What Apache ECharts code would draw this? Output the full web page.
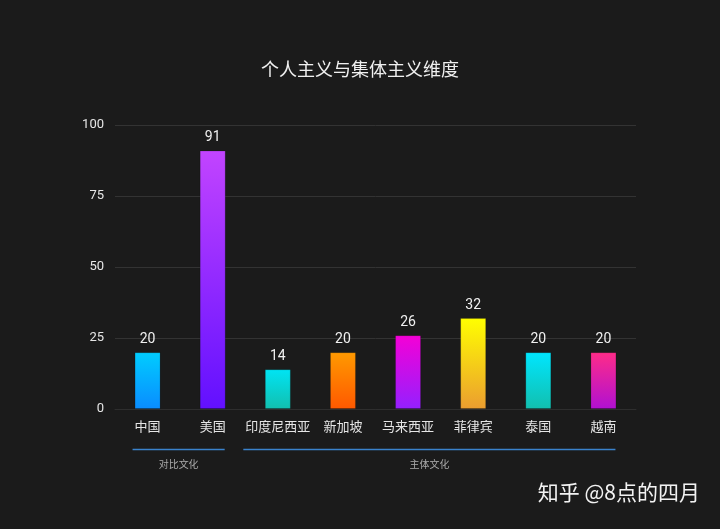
<!DOCTYPE html>
<html><head><meta charset="utf-8">
<script src="https://cdn.jsdelivr.net/npm/echarts@6/dist/echarts.min.js"></script>
<style>html,body{margin:0;padding:0;background:#1b1b1b;}#c{width:720px;height:529px;}</style>
</head><body><div id="c"></div>
<script>
const categories = ['中国','美国','印度尼西亚','新加坡','马来西亚','菲律宾','泰国','越南'];
const values = [20, 91, 14, 20, 26, 32, 20, 20];
const topColors = ['#00cdff','#c244ff','#00e4f4','#ff9a00','#f500d6','#ffff00','#00e6ff','#ff2c88'];
const bottomColors = ['#0a8cff','#6210ff','#12bfae','#ff5800','#9420ff','#eb9d30','#12bfae','#b010d2'];
const yTicks = [0, 25, 50, 75, 100];
const groups = [
  {name: '对比文化', from: 0, to: 1},
  {name: '主体文化', from: 2, to: 7}
];

const W = 720, H = 529;
const gridLeft = 115, gridRight = 84, gridTop = 125, gridBottom = 120;
const labelFont = '13px "Noto Sans CJK SC"';
const chart = echarts.init(document.getElementById('c'), null, {renderer: 'canvas'});
const band = (W - gridLeft - gridRight) / categories.length;
const center = i => gridLeft + (i + 0.5) * band;
const mctx = document.createElement('canvas').getContext('2d');
mctx.font = labelFont;
const tw = s => mctx.measureText(s).width;

const graphics = [];
groups.forEach(g => {
  const x1 = center(g.from) - tw(categories[g.from]) / 2 - 2;
  const x2 = center(g.to) + tw(categories[g.to]) / 2 - 1;
  graphics.push({type: 'line', shape: {x1: x1, y1: 449.5, x2: x2, y2: 449.5}, style: {stroke: '#3a82cc', lineWidth: 1.5}});
  graphics.push({type: 'text', x: (x1 + x2) / 2, y: 464, style: {text: g.name, fill: '#aaaaaa', font: '10px "Noto Sans CJK SC"', textAlign: 'center', textVerticalAlign: 'middle'}});
});
graphics.push({type: 'text', right: 20, top: 482, style: {text: '知乎 @8点的四月', fill: '#f2f2f2', font: '21px "Noto Sans CJK SC"'}});

chart.setOption({
  backgroundColor: '#1b1b1b',
  animation: false,
  title: {text: '个人主义与集体主义维度', left: 'center', top: 55,
    textStyle: {color: '#f0f0f0', fontSize: 18, fontWeight: 'normal', fontFamily: '"Noto Sans CJK SC"'}},
  grid: {left: gridLeft, right: gridRight, top: gridTop, bottom: gridBottom},
  xAxis: {type: 'category', data: categories,
    axisLine: {lineStyle: {color: '#2e2e2e'}}, axisTick: {show: false},
    axisLabel: {interval: 0, color: '#e6e6e6', fontSize: 13, margin: 11, fontFamily: '"Noto Sans CJK SC"'}},
  yAxis: {type: 'value', min: yTicks[0], max: yTicks[yTicks.length - 1], interval: 25,
    axisLine: {show: false}, axisTick: {show: false},
    splitLine: {lineStyle: {color: '#333333'}},
    axisLabel: {color: '#e6e6e6', fontSize: 13, margin: 11, fontFamily: 'Roboto'}},
  series: [{
    type: 'bar', barWidth: 26,
    data: values.map((v, i) => ({value: v, itemStyle: {
      color: new echarts.graphic.LinearGradient(0, 0, 0, 1, [{offset: 0, color: topColors[i]}, {offset: 1, color: bottomColors[i]}]),
      borderColor: 'rgba(0,0,0,0.15)', borderWidth: 1}})),
    label: {show: true, position: 'top', distance: 6, color: '#f0f0f0', fontSize: 14, fontFamily: 'Roboto'}
  }],
  graphic: graphics
});
</script></body></html>
